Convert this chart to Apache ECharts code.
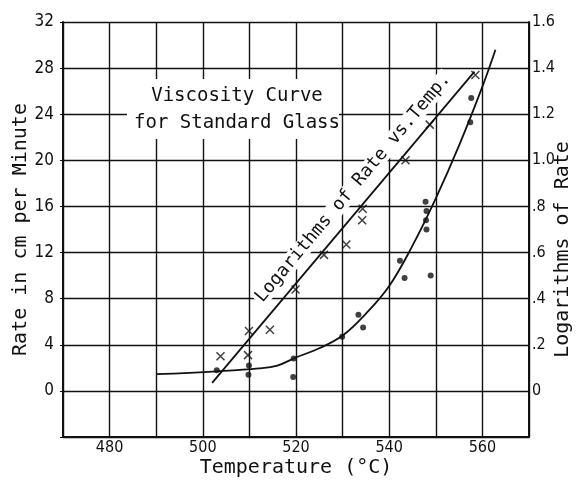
<!DOCTYPE html>
<html>
<head>
<meta charset="utf-8">
<script src="https://cdn.jsdelivr.net/npm/echarts@6/dist/echarts.min.js"></script>
<style>
  html, body { margin: 0; padding: 0; background: #fff; }
  #chart { width: 577px; height: 480px; }
</style>
</head>
<body>
<div id="chart"></div>
<script>
// rate in cm per minute (dots, left axis)
var rateTemps  = [503, 509.9, 509.8, 519.5, 519.4, 529.9, 533.4, 534.4, 542.3, 543.3, 547.8, 548.0, 547.9, 548.0, 548.9, 557.6, 557.4];
var rateValues = [1.8, 2.2,   1.4,   2.8,   1.2,   4.7,   6.6,   5.5,   11.3,  9.8,   16.4,  15.6,  14.8,  14.0,  10.0,  25.4,  23.3];

// smooth curve drawn through the rate dots
var curveTemps  = [490,  503, 512, 516, 520, 525, 530, 535, 540, 545,  550,  555,  560,  562.8];
var curveValues = [1.45, 1.7, 1.95, 2.2, 2.9, 3.7, 4.8, 6.7, 9.1, 12.6, 16.7, 21.3, 26.4, 29.6];

// logarithms of rate (crosses, right axis)
var logTemps  = [503.8, 509.7, 509.9, 514.4, 519.9, 526.0, 530.8, 534.3, 534.2, 543.5, 548.7, 558.5];
var logValues = [0.15,  0.155, 0.26,  0.265, 0.44,  0.59,  0.635, 0.79,  0.74,  1.0,   1.155, 1.37];

// straight line fitted to the logs
var logLineTemps  = [502, 558.3];
var logLineValues = [0.035, 1.385];

var pairs = function (xs, ys) {
    return xs.map(function (x, i) { return [x, ys[i]]; });
};

var ink = '#111';
var mono = "'DejaVu Sans Mono', monospace";
var narrow = "'Liberation Sans Narrow', 'DejaVu Sans Condensed', 'DejaVu Sans', sans-serif";
var crossPath = 'path://M0,0L10,10M10,0L0,10';

var chart = echarts.init(document.getElementById('chart'), null, { renderer: 'canvas' });

var option = {
    backgroundColor: '#fff',
    animation: false,
    grid: { left: 63, right: 48, top: 22, bottom: 43, outerBoundsMode: 'none', containLabel: false },
    xAxis: {
        type: 'value',
        min: 470,
        max: 570,
        interval: 10,
        name: 'Temperature (°C)',
        nameLocation: 'middle',
        nameGap: 21,
        nameMoveOverlap: false,
        nameTextStyle: { color: ink, fontFamily: mono, fontSize: 20 },
        axisLine: { show: true, onZero: false, lineStyle: { color: ink, width: 2 } },
        axisTick: { show: false },
        axisLabel: {
            color: ink, fontFamily: narrow, fontSize: 16, margin: 3,
            formatter: function (v) { return v % 20 === 0 ? String(v) : ''; }
        },
        splitLine: { show: true, lineStyle: { color: ink, width: 1.4 } }
    },
    yAxis: [
        {
            type: 'value',
            position: 'left',
            min: -4,
            max: 32,
            interval: 4,
            name: 'Rate in cm per Minute',
            nameLocation: 'middle',
            nameRotate: 90,
            nameGap: 32,
            nameMoveOverlap: false,
            nameTextStyle: { color: ink, fontFamily: mono, fontSize: 20 },
            axisLine: { show: true, onZero: false, lineStyle: { color: ink, width: 2 } },
            axisTick: { show: true, inside: false, length: 3, lineStyle: { color: ink } },
            axisLabel: {
                color: ink, fontFamily: narrow, fontSize: 17, margin: 9,
                formatter: function (v) { return v < 0 ? '' : String(v); }
            },
            splitLine: { show: true, lineStyle: { color: ink, width: 1.4 } }
        },
        {
            type: 'value',
            position: 'right',
            min: -0.2,
            max: 1.6,
            interval: 0.2,
            name: 'Logarithms of Rate',
            nameLocation: 'middle',
            nameRotate: 90,
            nameGap: 24,
            nameMoveOverlap: false,
            nameTextStyle: { color: ink, fontFamily: mono, fontSize: 20, padding: [0, 40, 0, 0] },
            axisLine: { show: true, onZero: false, lineStyle: { color: ink, width: 2 } },
            axisTick: { show: false },
            axisLabel: {
                color: ink, fontFamily: narrow, fontSize: 16, margin: 3,
                formatter: function (v) {
                    if (v < -1e-9) return '';
                    if (Math.abs(v) < 1e-9) return '0';
                    var s = v.toFixed(1);
                    return v < 1 ? s.replace(/^0/, '') : s;
                }
            },
            splitLine: { show: false }
        }
    ],
    graphic: [
        {
            type: 'rect',
            shape: { x: 127, y: 79, width: 212, height: 60 },
            style: { fill: '#fff' },
            z: 50
        },
        {
            type: 'text',
            x: 237,
            y: 110,
            z: 51,
            style: {
                text: 'Viscosity Curve\nfor Standard Glass',
                font: '19px ' + mono,
                fill: ink,
                align: 'center',
                verticalAlign: 'middle',
                lineHeight: 27
            }
        },
        {
            type: 'text',
            x: 353,
            y: 188,
            rotation: 50 * Math.PI / 180,
            z: 51,
            style: {
                text: 'Logarithms of Rate vs.Temp.',
                font: '18px ' + mono,
                fill: ink,
                align: 'center',
                verticalAlign: 'middle',
                backgroundColor: '#fff',
                padding: [0, 2]
            }
        }
    ],
    series: [
        {
            name: 'Rate curve',
            type: 'line',
            yAxisIndex: 0,
            data: pairs(curveTemps, curveValues),
            smooth: 0.4,
            showSymbol: false,
            lineStyle: { color: ink, width: 1.8 },
            z: 60
        },
        {
            name: 'Rate',
            type: 'scatter',
            yAxisIndex: 0,
            data: pairs(rateTemps, rateValues),
            symbol: 'circle',
            symbolSize: 6,
            itemStyle: { color: ink },
            z: 61
        },
        {
            name: 'Log line',
            type: 'line',
            yAxisIndex: 1,
            data: pairs(logLineTemps, logLineValues),
            showSymbol: false,
            lineStyle: { color: ink, width: 1.8 },
            z: 60
        },
        {
            name: 'Log of rate',
            type: 'scatter',
            yAxisIndex: 1,
            data: pairs(logTemps, logValues),
            symbol: crossPath,
            symbolSize: 8,
            itemStyle: { color: 'none', borderColor: ink, borderWidth: 1.5 },
            z: 61
        }
    ]
};

chart.setOption(option);
</script>
</body>
</html>
